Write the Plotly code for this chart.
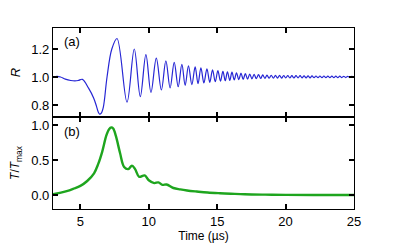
import plotly.graph_objects as go
from plotly.subplots import make_subplots

# panel (a): reflectance
t_r = [3.0, 3.3, 3.55, 3.9, 4.3, 4.6, 4.85, 5.15, 5.6, 5.97, 6.18, 6.3, 6.41,
       6.53, 6.68, 6.95, 7.3, 7.68, 8.41, 8.94, 9.38, 9.79, 10.16, 10.55, 10.92,
       11.25, 11.56,
       11.86, 12.15, 12.42, 12.66, 12.9, 13.15, 13.39, 13.6, 13.81, 14.03,
       14.25, 14.46, 14.66, 14.86, 15.05, 15.24, 15.42, 15.59, 15.75, 15.92,
       16.08, 16.25, 16.41, 16.58, 16.74, 16.9, 17.06, 17.22, 17.38, 17.54,
       17.70, 17.86, 18.02, 18.18, 18.33, 18.49, 18.64, 18.8, 18.95, 19.11,
       19.26, 19.41, 19.56, 19.71, 19.86, 20.01, 20.16, 20.31, 20.46, 20.61,
       20.76, 20.91, 21.06, 21.2, 21.35, 21.5, 21.64, 21.79, 21.93, 22.08,
       22.22, 22.37, 22.51, 22.66, 22.80, 22.95, 23.09, 23.24, 23.38, 23.53,
       23.67, 23.82, 23.96, 24.11, 24.25, 24.4, 24.54, 24.69, 24.83, 25.0]
r_vals = [1.0, 1.005, 1.0, 0.985, 0.975, 0.972, 0.975, 0.983, 0.92, 0.85, 0.79, 0.752, 0.735,
          0.742, 0.785, 1.0, 1.2, 1.275, 0.82, 1.20, 0.86, 1.16, 0.89, 1.135, 0.907,
          1.115, 0.922,
          1.105, 0.93, 1.09, 0.94, 1.08, 0.946, 1.072, 0.952, 1.065, 0.957,
          1.058, 0.962, 1.051, 0.966, 1.045, 0.97, 1.041, 0.973, 1.037, 0.976,
          1.034, 0.979, 1.03, 0.981, 1.027, 0.983, 1.024, 0.985, 1.021, 0.987,
          1.019, 0.988, 1.017, 0.989, 1.015, 0.99, 1.013, 0.991, 1.012, 0.991,
          1.011, 0.992, 1.011, 0.992, 1.01, 0.993, 1.01, 0.993, 1.009, 0.993,
          1.009, 0.994, 1.009, 0.994, 1.008, 0.994, 1.008, 0.994, 1.008, 0.995,
          1.007, 0.995, 1.007, 0.995, 1.007, 0.995, 1.006, 0.995, 1.006, 0.996,
          1.006, 0.996, 1.006, 0.996, 1.005, 0.996, 1.005, 0.996, 1.005, 0.997]

# panel (b): normalised transmission
t_T = [3.0, 3.5, 4.0, 4.5, 5.0, 5.5, 6.0, 6.3, 6.6, 6.9, 7.1, 7.26, 7.4, 7.6,
       7.9, 8.2, 8.5, 8.77, 9.0, 9.3, 9.7, 10.0, 10.4, 10.7, 11.0, 11.3,
       11.8, 12.3, 12.8, 13.5, 14.3, 15.2, 16.0, 17.0, 18.5, 20.0, 22.0, 25.0]
T_vals = [0.01, 0.03, 0.055, 0.09, 0.13, 0.2, 0.31, 0.44, 0.62, 0.85, 0.94, 0.965,
          0.95, 0.84, 0.6, 0.4, 0.37, 0.42, 0.37, 0.26, 0.28, 0.21, 0.17, 0.18,
          0.145, 0.15, 0.1, 0.08, 0.065, 0.05, 0.035, 0.025, 0.018, 0.01, 0.005,
          0.002, 0.0, 0.0]

fnt = "Liberation Sans, Arial, sans-serif"

fig = make_subplots(rows=2, cols=1, shared_xaxes=True, vertical_spacing=0,
                    row_heights=[89, 92])
fig.add_trace(go.Scatter(x=t_r, y=r_vals, mode="lines",
                         line=dict(color="#2626d4", width=1.2, shape="spline")),
              row=1, col=1)
fig.add_trace(go.Scatter(x=t_T, y=T_vals, mode="lines",
                         line=dict(color="#1ea51e", width=2.4, shape="spline")),
              row=2, col=1)

ax = dict(showline=True, linecolor="black", linewidth=1.1, mirror="ticks",
          ticks="inside", ticklen=5, tickwidth=1.5, tickcolor="black",
          showgrid=False, zeroline=False, automargin=False,
          tickfont=dict(family=fnt, size=13, color="black"))
fig.update_xaxes(ax, range=[3, 25], tickvals=[5, 10, 15, 20, 25])
fig.update_xaxes(title=dict(text="Time (µs)", font=dict(family=fnt, size=12, color="black"),
                            standoff=3), row=2, col=1)
fig.update_yaxes(ax)
fig.update_yaxes(range=[0.714, 1.35], tickvals=[0.8, 1.0, 1.2], tickformat=".1f",
                 title=dict(text="<i>R</i>", font=dict(family=fnt, size=13, color="black"),
                            standoff=12), row=1, col=1)
fig.update_yaxes(range=[-0.2, 1.114], tickvals=[0.0, 0.5, 1.0], tickformat=".1f",
                 title=dict(text="<i>T</i>/<i>T</i><sub>max</sub>",
                            font=dict(family=fnt, size=12, color="black"), standoff=12),
                 row=2, col=1)

fig.add_annotation(text="(a)", xref="x domain", yref="y domain", x=0.03, y=0.95,
                   xanchor="left", yanchor="top", showarrow=False,
                   font=dict(family=fnt, size=13, color="black"))
fig.add_annotation(text="(b)", xref="x2 domain", yref="y2 domain", x=0.03, y=0.95,
                   xanchor="left", yanchor="top", showarrow=False,
                   font=dict(family=fnt, size=13, color="black"))

# page body keeps an 8px margin, so the figure is 8px smaller on each side
fig.update_layout(width=391, height=238, showlegend=False,
                  margin=dict(l=45, r=45, t=20, b=37),
                  plot_bgcolor="white", paper_bgcolor="white")
fig.write_html("out.html")
